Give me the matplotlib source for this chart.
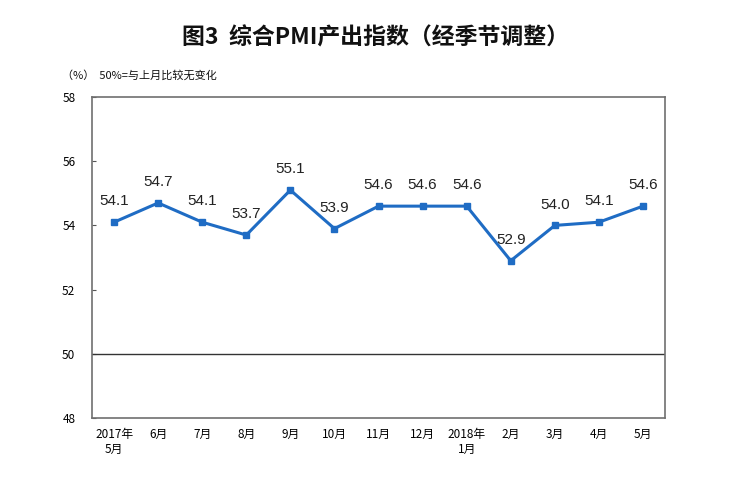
import matplotlib
matplotlib.use("Agg")
import matplotlib.pyplot as plt

plt.rcParams['font.family'] = ['Noto Sans CJK SC', 'DejaVu Sans']

# data
months = ['2017年\n5月', '6月', '7月', '8月', '9月', '10月', '11月', '12月',
          '2018年\n1月', '2月', '3月', '4月', '5月']
pmi = [54.1, 54.7, 54.1, 53.7, 55.1, 53.9, 54.6, 54.6, 54.6, 52.9, 54.0, 54.1, 54.6]
yticks = [48, 50, 52, 54, 56, 58]

fig = plt.figure(figsize=(7.5, 4.8), dpi=100)
ax = fig.add_axes([0.1227, 0.129, 0.764, 0.669])

x = list(range(len(pmi)))
ax.plot(x, pmi, color='#1f6cc4', linewidth=2.2, marker='s', markersize=5)

for xi, v in zip(x, pmi):
    ax.annotate(f'{v:.1f}', (xi, v), xytext=(0, 10), textcoords='offset points',
                ha='center', va='bottom', fontsize=11, color='#222222',
                family=['Liberation Sans', 'DejaVu Sans'])

ax.axhline(50, color='#333333', linewidth=1)

ax.set_xlim(-0.5, len(pmi) - 0.5)
ax.set_ylim(48, 58)
ax.set_yticks(yticks)
ax.set_yticklabels([str(t) for t in yticks], fontsize=8.5)
ax.set_xticks(x)
ax.set_xticklabels(months, fontsize=8.5, linespacing=1.25)
ax.tick_params(axis='x', length=0, pad=7)
ax.tick_params(axis='y', direction='in', length=3, pad=12, color='#555555')

for s in ax.spines.values():
    s.set_color('#707070')
    s.set_linewidth(1.2)

fig.text(0.5, 0.92, '图3  综合PMI产出指数（经季节调整）', ha='center', va='center',
         fontsize=16.5, fontweight='bold', color='#111111')
fig.text(0.082, 0.843, '（%）  50%=与上月比较无变化', ha='left', va='center',
         fontsize=8, color='#111111')

fig.savefig('out.png', dpi=100, facecolor='white')
